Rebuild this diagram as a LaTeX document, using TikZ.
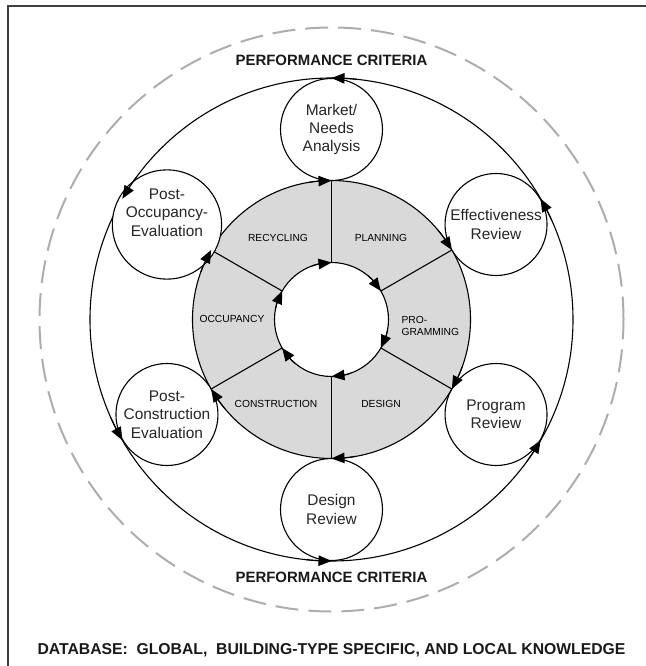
\documentclass[tikz,border=0pt]{standalone}
\usepackage{fontspec}
\setmainfont{Liberation Sans}
\usetikzlibrary{arrows.meta,bending}
\begin{document}
\begin{tikzpicture}[x=1bp,y=1bp,
  tipA/.style={-{Triangle[length=13bp,width=10.5bp]}},
  ringline/.style={line width=1.1bp, black},
  stagecircle/.style={circle, draw, line width=1.1bp, fill=white, minimum size=102bp, inner sep=0pt, align=center, font=\fontsize{15.5}{18.5}\selectfont, text=black!85},
  ringlabel/.style={font=\fontsize{10.3}{12}\selectfont, text=black},
  caplabel/.style={font=\bfseries\fontsize{15}{18}\selectfont, text=black!90}
]
\useasboundingbox (-331.5,-346.5) rectangle (314.5,319.5);
% frame (top and left edges visible)
\draw[line width=2bp, black!75] (-323,-346.5) -- (-323,313.5) -- (314.5,313.5);
% dashed outer circle
\draw[black!32, line width=2bp, dash pattern=on 23bp off 10bp] (0,0) circle[radius=292];
% big solid circle
\draw[ringline] (0,0) circle[radius=241.5];
% gray ring
\draw[ringline, fill=black!15, even odd rule] (0,0) circle[radius=139] (0,0) circle[radius=57];
% spokes
\foreach \a in {90,30,-30,-90,-150,150}{
  \coordinate (in\a) at (\a:57);
  \coordinate (out\a) at (\a:139);
  \draw[ringline] (in\a) -- (out\a);
}
% ring labels
\node[ringlabel] (lrec) at (-53.5,81.5) {RECYCLING};
\node[ringlabel] (lplan) at (49.5,81.5) {PLANNING};
\node[ringlabel, anchor=west, align=left] (lprog) at (66.5,-6.5) {PRO-\\GRAMMING};
\node[ringlabel] (locc) at (-99.5,0.5) {OCCUPANCY};
\node[ringlabel] (lcons) at (-55.5,-84.5) {CONSTRUCTION};
\node[ringlabel] (ldes) at (49.5,-84.5) {DESIGN};
% stage circles
\node[stagecircle] (mkt) at (90:190) {Market/\\Needs\\Analysis};
\node[stagecircle] (eff) at (30:190) {Effectiveness\\Review};
\node[stagecircle] (prog) at (-30:190) {Program\\Review};
\node[stagecircle] (des) at (-90:190) {Design\\Review};
\node[stagecircle] (pce) at (-150:190) {Post-\\Construction\\Evaluation};
\node[stagecircle] (poe) at (150:190) {Post-\\Occupancy-\\Evaluation\\[6bp]};
% arrows
\foreach \a in {90,30,-30,-90,-150,150}{
  \draw[ringline, tipA] (\a+20:57) arc[start angle=\a+20, end angle=\a, radius=57];
  \draw[ringline, tipA] (\a+10:139) arc[start angle=\a+10, end angle=\a, radius=139];
  \draw[ringline, tipA] (\a-6:241.5) arc[start angle=\a-6, end angle=\a, radius=241.5];
}
% captions
\node[caplabel] (pctop) at (0,259.5) {PERFORMANCE CRITERIA};
\node[caplabel] (pcbot) at (0,-257.5) {PERFORMANCE CRITERIA};
\node[caplabel, font=\bfseries\fontsize{15.8}{18}\selectfont] (db) at (0,-330.5) {DATABASE:\ \ GLOBAL,\ \ BUILDING-TYPE SPECIFIC, AND LOCAL KNOWLEDGE};
\end{tikzpicture}
\end{document}
